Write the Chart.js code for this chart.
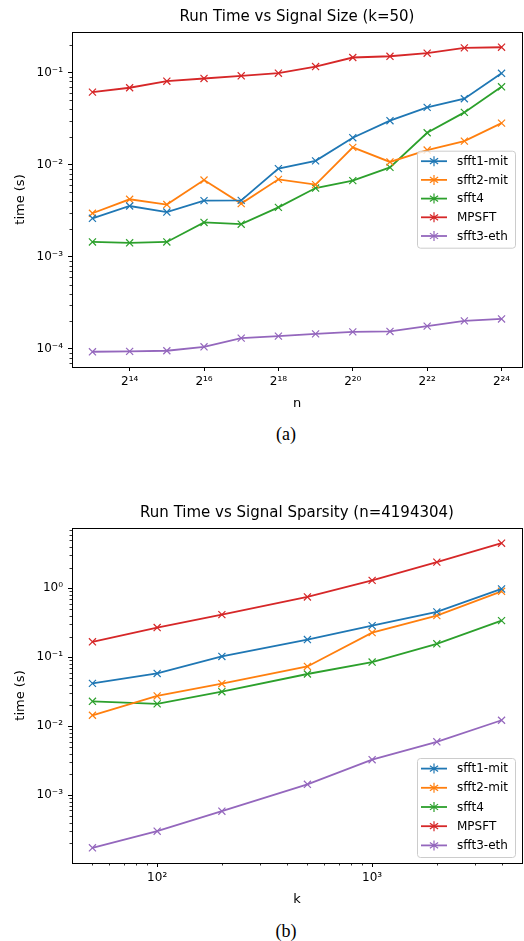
<!DOCTYPE html>
<html>
<head>
<meta charset="utf-8">
<script src="https://cdn.jsdelivr.net/npm/chart.js@4.4.0/dist/chart.umd.min.js"></script>
<style>
  body { margin: 0; background: #fff; width: 524px; height: 941px; position: relative; overflow: hidden; }
  .fig { position: absolute; left: 0; width: 524px; height: 412px; }
  .fig canvas { display: block; }
  .cap { position: absolute; left: 0; width: 572px; text-align: center; font: 18px "Liberation Serif", serif; color: #000; }
</style>
</head>
<body>
<div class="fig" style="top:0"><canvas id="sizeChart" width="524" height="412"></canvas></div>
<div class="cap" style="top:424px">(a)</div>
<div class="fig" style="top:496px"><canvas id="sparsityChart" width="524" height="412"></canvas></div>
<div class="cap" style="top:921px">(b)</div>
<script>
const seriesNames  = ['sfft1-mit', 'sfft2-mit', 'sfft4', 'MPSFT', 'sfft3-eth'];
const seriesColors = ['#1f77b4', '#ff7f0e', '#2ca02c', '#d62728', '#9467bd'];

// run time vs signal size, k = 50
const sizeN = [8192, 16384, 32768, 65536, 131072, 262144, 524288, 1048576, 2097152, 4194304, 8388608, 16777216];
const sizeSfft1 = [0.00262, 0.00356, 0.00306, 0.00407, 0.0041, 0.00906, 0.0110, 0.0196, 0.0300, 0.0418, 0.0519, 0.098];
const sizeSfft2 = [0.00297, 0.00421, 0.00369, 0.00681, 0.00378, 0.00693, 0.00607, 0.0154, 0.0107, 0.0144, 0.0180, 0.0282];
const sizeSfft4 = [0.00145, 0.00142, 0.00145, 0.00236, 0.00226, 0.00344, 0.00558, 0.00671, 0.00935, 0.0222, 0.0369, 0.0700];
const sizeMpsft = [0.0612, 0.0683, 0.0805, 0.0861, 0.0920, 0.0982, 0.116, 0.1454, 0.150, 0.162, 0.185, 0.188];
const sizeSfft3 = [9.33e-5, 9.42e-5, 9.57e-5, 1.057e-4, 1.313e-4, 1.38e-4, 1.46e-4, 1.535e-4, 1.55e-4, 1.77e-4, 2.02e-4, 2.12e-4];
const sizeTicks = [16384, 65536, 262144, 1048576, 4194304, 16777216];
const sizeTickLabels = ['2¹⁴', '2¹⁶', '2¹⁸', '2²⁰', '2²²', '2²⁴'];

// run time vs sparsity, n = 4194304
const sparsityK = [50, 100, 200, 500, 1000, 2000, 4000];
const sparSfft1 = [0.0418, 0.0583, 0.1028, 0.1808, 0.288, 0.455, 0.98];
const sparSfft2 = [0.01442, 0.0275, 0.0414, 0.0736, 0.228, 0.402, 0.905];
const sparSfft4 = [0.0230, 0.0211, 0.0317, 0.0572, 0.0852, 0.1567, 0.340];
const sparMpsft = [0.1675, 0.270, 0.415, 0.749, 1.305, 2.40, 4.51];
const sparSfft3 = [1.726e-4, 3.0e-4, 5.85e-4, 1.436e-3, 3.27e-3, 5.95e-3, 0.01221];
const sparTicks = [100, 1000];
const sparTickLabels = ['10²', '10³'];

const decadeLabels = { '-4': '10⁻⁴', '-3': '10⁻³', '-2': '10⁻²', '-1': '10⁻¹', '0': '10⁰' };

const FONT = 'DejaVu Sans';

// matplotlib-style 5% margin, in log space
function logLimits(values) {
  const logs = values.map(Math.log10);
  const lo = Math.min(...logs), hi = Math.max(...logs), pad = (hi - lo) * 0.05;
  return [10 ** (lo - pad), 10 ** (hi + pad)];
}

function decades(min, max) {
  const out = [];
  for (let e = Math.ceil(Math.log10(min)); 10 ** e <= max; e++) out.push(10 ** e);
  return out;
}

function minorValues(min, max) {
  const out = [];
  for (let e = Math.floor(Math.log10(min)); 10 ** e <= max; e++)
    for (let m = 2; m <= 9; m++) {
      const v = m * 10 ** e;
      if (v >= min && v <= max) out.push(v);
    }
  return out;
}

// axes frame, minor ticks and an in-axes legend
const framePlugin = {
  id: 'frame',
  afterDraw(chart, args, opts) {
    const { ctx, chartArea: a, scales } = chart;
    ctx.save();
    ctx.strokeStyle = '#000';
    ctx.lineWidth = 0.8;
    ctx.beginPath();
    (opts.minorY || []).forEach(v => {
      const y = Math.round(scales.y.getPixelForValue(v)) + 0.5;
      ctx.moveTo(a.left - 2.5, y); ctx.lineTo(a.left, y);
    });
    (opts.minorX || []).forEach(v => {
      const x = Math.round(scales.x.getPixelForValue(v)) + 0.5;
      ctx.moveTo(x, a.bottom); ctx.lineTo(x, a.bottom + 2.5);
    });
    ctx.stroke();

    ctx.lineWidth = 1;
    ctx.strokeRect(Math.round(a.left) + 0.5, Math.round(a.top) + 0.5, Math.round(a.width), Math.round(a.height));

    // legend
    const lg = opts.legend;
    const bw = 98, bx = a.right - 7 - bw, by = a.top + lg.top;
    ctx.fillStyle = 'rgba(255,255,255,0.8)';
    ctx.strokeStyle = '#cccccc';
    ctx.beginPath();
    ctx.roundRect(bx + 0.5, by + 0.5, bw, lg.height, 3);
    ctx.fill(); ctx.stroke();

    ctx.font = '12px ' + FONT;
    ctx.textBaseline = 'middle';
    chart.data.datasets.forEach((ds, i) => {
      const y = by + lg.first + i * lg.step;
      const mx = bx + 17;
      ctx.strokeStyle = ds.borderColor;
      ctx.lineWidth = 1.8;
      ctx.beginPath(); ctx.moveTo(bx + 4, y); ctx.lineTo(bx + 30, y); ctx.stroke();
      ctx.lineWidth = 1.2;
      ctx.beginPath();
      [90, 35, 145].forEach(deg => {
        const r = deg * Math.PI / 180, dx = Math.cos(r) * 5, dy = Math.sin(r) * 5;
        ctx.moveTo(mx - dx, y - dy); ctx.lineTo(mx + dx, y + dy);
      });
      ctx.stroke();
      ctx.fillStyle = '#000';
      ctx.fillText(ds.label, bx + 40, y + 0.5);
    });
    ctx.restore();
  }
};

function makeChart(id, title, xLabel, xs, series, xTicks, xTickLabels, xMinors, legend) {
  const [xMin, xMax] = logLimits(xs);
  const [yMin, yMax] = logLimits(series.flat());
  const yTicks = decades(yMin, yMax);

  const datasets = series.map((vals, i) => ({
    label: seriesNames[i],
    data: xs.map((x, j) => ({ x, y: vals[j] })),
    borderColor: seriesColors[i],
    backgroundColor: seriesColors[i],
    borderWidth: 1.8,
    pointStyle: 'crossRot',
    pointRadius: 5,
    pointBorderWidth: 1.2,
    pointHoverRadius: 5,
    tension: 0,
    fill: false
  }));

  const tickFont  = { family: FONT, size: 12 };
  const labelFont = { family: FONT, size: 13 };

  return new Chart(document.getElementById(id), {
    type: 'line',
    data: { datasets },
    plugins: [framePlugin],
    options: {
      responsive: false,
      animation: false,
      layout: { autoPadding: false, padding: { left: 0, right: 2, top: 0, bottom: 0 } },
      plugins: {
        legend: { display: false },
        tooltip: { enabled: false },
        title: {
          display: true, text: title, color: '#000', fullSize: false,
          font: { family: FONT, size: 15, weight: 'normal' },
          padding: { top: 8, bottom: 6 }
        },
        frame: {
          minorY: minorValues(yMin, yMax),
          minorX: xMinors ? minorValues(xMin, xMax) : [],
          legend
        }
      },
      scales: {
        x: {
          type: 'logarithmic', min: xMin, max: xMax,
          afterFit: s => { s.height = 45; s.paddingLeft = 0; s.paddingRight = 0; },
          afterBuildTicks: s => { s.ticks = xTicks.map(v => ({ value: v })); },
          border: { display: false },
          grid: { drawOnChartArea: false, drawTicks: true, tickLength: 4, tickColor: '#000', tickWidth: 1 },
          ticks: {
            autoSkip: false, maxRotation: 0, padding: 4, color: '#000', font: tickFont,
            callback: v => xTickLabels[xTicks.indexOf(v)] ?? ''
          },
          title: { display: true, text: xLabel, color: '#000', font: labelFont, padding: { top: 0, bottom: 1 } }
        },
        y: {
          type: 'logarithmic', min: yMin, max: yMax,
          afterFit: s => { s.width = 72; s.paddingTop = 0; s.paddingBottom = 0; },
          afterBuildTicks: s => { s.ticks = yTicks.map(v => ({ value: v })); },
          border: { display: false },
          grid: { drawOnChartArea: false, drawTicks: true, tickLength: 4, tickColor: '#000', tickWidth: 1 },
          ticks: {
            autoSkip: false, padding: 5, color: '#000', font: tickFont,
            callback: v => decadeLabels[Math.round(Math.log10(v))] ?? ''
          },
          title: { display: true, text: 'time (s)', color: '#000', font: labelFont, padding: { top: 13, bottom: 0 } }
        }
      }
    }
  });
}

makeChart('sizeChart', 'Run Time vs Signal Size (k=50)', 'n', sizeN,
  [sizeSfft1, sizeSfft2, sizeSfft4, sizeMpsft, sizeSfft3],
  sizeTicks, sizeTickLabels, false,
  { top: 118.7, height: 97, first: 10.5, step: 18.7 });

makeChart('sparsityChart', 'Run Time vs Signal Sparsity (n=4194304)', 'k', sparsityK,
  [sparSfft1, sparSfft2, sparSfft4, sparMpsft, sparSfft3],
  sparTicks, sparTickLabels, true,
  { top: 230, height: 99, first: 10.6, step: 19.2 });
</script>
</body>
</html>
